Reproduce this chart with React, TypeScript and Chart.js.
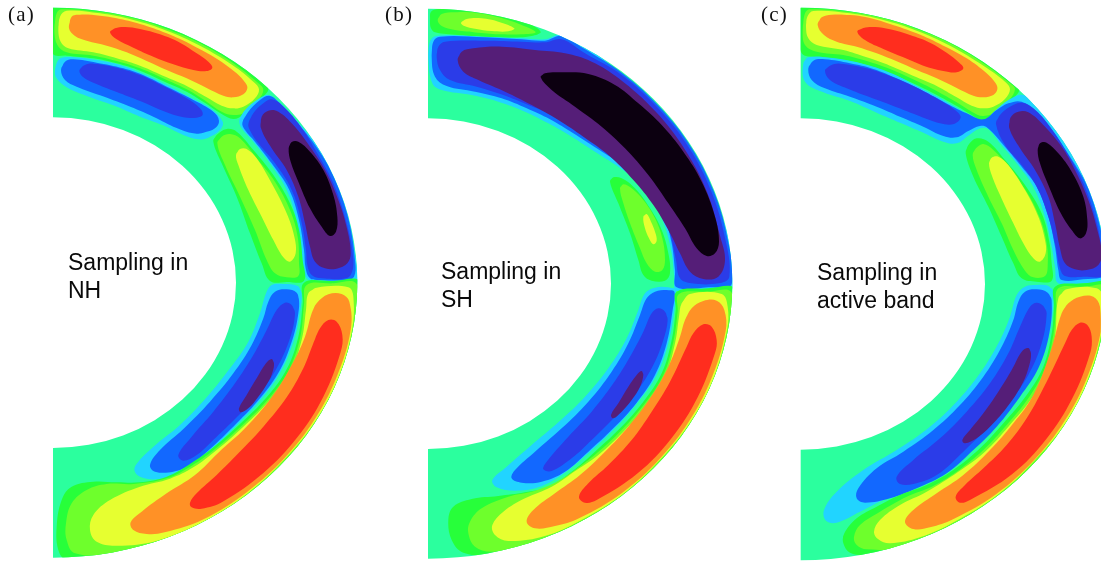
import React, { useEffect, useRef } from "react";
import { Chart, registerables } from "chart.js";

Chart.register(...registerables);

type Contour = [string, number[]];

const PALETTE: Record<string, string> = {
  base: "#2bff9e",
  lime: "#27ff3a",
  green: "#6eff2c",
  yellow: "#e6ff30",
  orange: "#ff9126",
  red: "#ff2d1e",
  cyan: "#21d4ff",
  sky: "#1268ff",
  blue: "#2b3ce8",
  purple: "#551e78",
  black: "#0c0010",
};

// Lower half outlines are read with their own zero at row 840.
const low = (v: number[]) => v.map((n, i) => (i % 2 ? n + 840 : n));

const panelA: Contour[] = [
  ["lime", [140, 90, 159, 15, 300, 25, 400, 45, 500, 75, 600, 118, 700, 176, 790, 250, 805, 268, 790, 290, 760, 322, 730, 345, 700, 357, 665, 342, 620, 312, 560, 275, 500, 248, 420, 212, 350, 190, 280, 175, 200, 167, 159, 162]],
  ["green", [163, 90, 170, 40, 185, 28, 300, 36, 400, 55, 500, 87, 600, 130, 700, 190, 775, 250, 790, 270, 775, 300, 740, 335, 700, 345, 665, 335, 620, 305, 560, 268, 500, 240, 420, 205, 350, 183, 280, 167, 200, 157, 172, 135]],
  ["yellow", [175, 90, 180, 50, 200, 32, 300, 40, 400, 60, 500, 92, 600, 137, 700, 197, 760, 245, 777, 268, 765, 295, 730, 320, 700, 325, 665, 317, 620, 292, 560, 258, 500, 232, 420, 197, 350, 175, 280, 157, 205, 145, 182, 125]],
  ["orange", [207, 85, 215, 50, 240, 44, 300, 47, 350, 55, 420, 72, 500, 100, 580, 137, 650, 176, 710, 220, 737, 250, 742, 265, 730, 283, 700, 292, 670, 287, 620, 264, 560, 235, 500, 210, 440, 183, 380, 157, 320, 137, 260, 122, 225, 108]],
  ["red", [330, 97, 345, 85, 375, 81, 420, 87, 480, 103, 540, 128, 590, 160, 625, 185, 637, 203, 620, 213, 580, 210, 520, 193, 460, 170, 400, 143, 350, 118]],
  ["cyan", [165, 210, 175, 180, 200, 171, 290, 180, 360, 195, 430, 222, 500, 255, 570, 292, 630, 325, 668, 365, 660, 390, 625, 413, 595, 418, 550, 405, 490, 376, 420, 350, 340, 316, 260, 288, 200, 262, 170, 235]],
  ["sky", [183, 210, 195, 185, 220, 178, 290, 188, 370, 205, 440, 230, 510, 265, 580, 300, 640, 335, 657, 362, 645, 385, 610, 398, 580, 400, 530, 384, 460, 350, 380, 316, 300, 286, 230, 260, 195, 240]],
  ["blue", [238, 212, 250, 197, 280, 191, 350, 203, 420, 225, 490, 258, 560, 295, 600, 325, 608, 345, 590, 353, 550, 352, 490, 333, 420, 303, 350, 276, 280, 248, 250, 232]],
  ["cyan", [718, 360, 735, 330, 775, 297, 805, 285, 830, 300, 880, 350, 950, 435, 1000, 525, 1045, 650, 1072, 800, 1080, 840, 1040, 846, 960, 846, 925, 840, 910, 810, 905, 750, 890, 660, 860, 570, 810, 490, 760, 425, 725, 385]],
  ["sky", [727, 368, 745, 335, 780, 300, 808, 287, 835, 305, 885, 360, 952, 445, 1003, 535, 1046, 660, 1066, 790, 1062, 830, 1040, 840, 960, 840, 930, 835, 917, 805, 912, 750, 897, 660, 868, 570, 815, 490, 765, 425, 735, 390]],
  ["blue", [745, 372, 760, 340, 790, 310, 815, 298, 845, 315, 895, 370, 955, 465, 1000, 550, 1040, 670, 1060, 780, 1052, 825, 1030, 836, 965, 835, 935, 825, 922, 795, 918, 750, 903, 660, 875, 570, 825, 490, 775, 430, 752, 395]],
  ["purple", [783, 385, 785, 350, 805, 332, 835, 335, 880, 375, 930, 440, 975, 510, 1015, 600, 1042, 690, 1052, 760, 1042, 790, 1010, 806, 975, 805, 945, 785, 930, 740, 915, 670, 895, 590, 860, 510, 815, 445]],
  ["black", [866, 445, 875, 426, 895, 425, 930, 455, 970, 510, 1000, 585, 1012, 650, 1008, 695, 990, 708, 965, 680, 930, 625, 895, 545, 872, 485]],
  ["lime", [640, 425, 650, 405, 680, 387, 710, 395, 760, 450, 820, 525, 870, 610, 897, 690, 908, 780, 912, 842, 860, 846, 810, 843, 785, 790, 750, 700, 710, 590, 665, 490]],
  ["green", [652, 430, 665, 410, 690, 402, 720, 415, 770, 475, 825, 545, 870, 630, 893, 710, 897, 790, 895, 828, 860, 832, 825, 820, 800, 780, 765, 690, 720, 590, 675, 495]],
  ["yellow", [708, 465, 720, 447, 740, 447, 770, 475, 815, 550, 860, 640, 883, 710, 887, 760, 870, 785, 850, 772, 820, 720, 785, 650, 745, 570, 715, 495]],
  ["cyan", low([905, 40, 893, 18, 850, 12, 815, 15, 798, 40, 780, 100, 745, 185, 690, 265, 620, 352, 540, 435, 470, 492, 415, 545, 403, 570, 420, 590, 470, 598, 530, 582, 590, 548, 650, 495, 720, 425, 790, 350, 845, 270, 885, 170, 900, 95])],
  ["sky", low([897, 60, 890, 38, 860, 28, 825, 35, 805, 65, 790, 115, 755, 195, 700, 280, 630, 365, 550, 447, 480, 510, 450, 555, 465, 575, 520, 575, 575, 552, 640, 498, 710, 430, 780, 355, 840, 270, 880, 170, 895, 100])],
  ["blue", low([885, 100, 875, 75, 855, 68, 830, 90, 800, 150, 760, 225, 705, 310, 640, 395, 575, 470, 535, 525, 550, 542, 590, 525, 650, 470, 705, 417, 775, 345, 830, 265, 870, 175])],
  ["purple", low([822, 250, 815, 237, 798, 250, 770, 295, 740, 345, 717, 385, 722, 397, 745, 385, 775, 350, 805, 305, 818, 275])],
  ["lime", low([912, 8, 1000, 3, 1080, 3, 1085, 100, 1065, 260, 1000, 440, 900, 570, 800, 660, 650, 760, 500, 815, 350, 840, 200, 840, 175, 810, 170, 740, 185, 660, 215, 620, 280, 605, 350, 607, 420, 607, 500, 590, 570, 552, 640, 502, 720, 432, 800, 352, 860, 268, 895, 170, 908, 70])],
  ["green", low([920, 15, 1000, 10, 1068, 10, 1073, 100, 1055, 260, 995, 430, 895, 565, 795, 655, 645, 752, 495, 805, 350, 825, 225, 820, 200, 780, 198, 730, 215, 670, 260, 630, 320, 612, 400, 612, 500, 595, 575, 557, 645, 507, 725, 437, 805, 357, 865, 273, 900, 175, 912, 75])],
  ["yellow", low([925, 40, 950, 23, 1045, 22, 1060, 50, 1056, 150, 1016, 290, 948, 420, 857, 534, 745, 638, 615, 722, 471, 782, 350, 797, 290, 785, 270, 750, 280, 705, 330, 660, 420, 620, 510, 596, 580, 562, 650, 510, 730, 440, 810, 360, 870, 278, 905, 180, 918, 90])],
  ["orange", low([935, 100, 950, 70, 985, 43, 1025, 42, 1048, 65, 1052, 150, 1011, 288, 944, 418, 853, 535, 742, 635, 612, 717, 494, 757, 440, 762, 400, 750, 392, 727, 425, 695, 500, 640, 585, 585, 655, 518, 735, 445, 815, 352, 878, 250, 915, 170])],
  ["red", low([938, 195, 960, 145, 985, 120, 1010, 125, 1027, 165, 1022, 216, 970, 350, 892, 472, 790, 579, 668, 665, 605, 686, 575, 682, 570, 668, 590, 640, 650, 585, 715, 520, 790, 440, 860, 352, 910, 265])],
];

const panelB: Contour[] = [
  ["lime", [165, 62, 168, 35, 190, 27, 300, 25, 380, 40, 450, 65, 497, 95, 470, 108, 400, 113, 330, 112, 250, 105, 180, 97, 168, 85]],
  ["green", [188, 60, 200, 42, 240, 37, 300, 38, 370, 52, 440, 75, 482, 97, 440, 103, 380, 103, 310, 98, 240, 90, 200, 78]],
  ["yellow", [258, 68, 275, 57, 320, 55, 370, 65, 418, 85, 400, 94, 350, 93, 300, 86, 268, 78]],
  ["cyan", [160, 170, 165, 125, 185, 108, 330, 110, 440, 115, 510, 118, 560, 103, 620, 125, 700, 190, 800, 280, 880, 365, 950, 460, 1010, 580, 1060, 710, 1080, 860, 905, 872, 898, 830, 890, 760, 870, 680, 835, 600, 790, 545, 730, 500, 660, 455, 590, 410, 520, 370, 450, 335, 370, 305, 290, 285, 200, 270, 172, 250]],
  ["sky", [170, 170, 175, 125, 195, 110, 330, 112, 440, 118, 510, 122, 560, 108, 625, 145, 745, 222, 857, 324, 948, 441, 1015, 571, 1056, 709, 1070, 852, 1000, 862, 905, 862, 900, 810, 890, 730, 870, 660, 838, 590, 795, 535, 735, 490, 665, 445, 595, 400, 525, 358, 455, 325, 380, 295, 300, 275, 215, 258, 180, 230]],
  ["blue", [185, 170, 190, 140, 210, 125, 330, 122, 440, 125, 510, 127, 560, 118, 630, 160, 740, 225, 851, 326, 942, 443, 1008, 572, 1049, 709, 1063, 830, 1030, 850, 950, 850, 915, 835, 903, 780, 885, 700, 855, 620, 810, 550, 745, 490, 670, 435, 600, 390, 530, 345, 460, 315, 385, 285, 305, 260, 225, 240, 195, 210]],
  ["purple", [248, 180, 260, 155, 295, 145, 380, 140, 480, 150, 570, 160, 650, 185, 731, 235, 841, 334, 930, 449, 996, 576, 1036, 711, 1050, 781, 1030, 830, 985, 837, 945, 815, 915, 760, 880, 690, 835, 615, 775, 540, 700, 465, 625, 410, 550, 360, 470, 315, 390, 275, 310, 240, 265, 215]],
  ["black", [497, 232, 510, 220, 560, 217, 640, 222, 720, 255, 790, 310, 860, 375, 925, 455, 980, 545, 1020, 650, 1032, 725, 1020, 760, 995, 768, 965, 745, 930, 685, 880, 610, 820, 525, 750, 445, 680, 380, 600, 320, 530, 270]],
  ["lime", [705, 545, 715, 532, 740, 535, 780, 565, 825, 625, 860, 690, 880, 760, 885, 820, 870, 842, 830, 842, 805, 825, 790, 780, 765, 700, 730, 610]],
  ["green", [735, 565, 745, 553, 770, 565, 805, 600, 840, 655, 862, 715, 870, 780, 862, 810, 840, 815, 815, 790, 795, 745, 765, 670, 745, 610]],
  ["yellow", [805, 650, 815, 642, 828, 665, 840, 695, 845, 722, 835, 733, 822, 715, 810, 685]],
  ["cyan", low([902, 30, 880, 22, 840, 23, 810, 40, 790, 90, 755, 175, 700, 265, 630, 350, 550, 427, 470, 495, 395, 560, 352, 600, 365, 622, 420, 632, 490, 622, 560, 585, 640, 520, 720, 445, 790, 365, 845, 285, 880, 190, 898, 90])],
  ["sky", low([898, 35, 875, 30, 840, 35, 815, 55, 795, 105, 760, 190, 710, 275, 640, 365, 560, 445, 480, 515, 420, 570, 410, 595, 440, 608, 500, 605, 570, 575, 640, 515, 715, 445, 785, 368, 840, 285, 875, 190, 893, 90])],
  ["blue", low([878, 120, 870, 95, 850, 85, 830, 100, 805, 155, 765, 230, 715, 310, 650, 395, 580, 470, 515, 545, 505, 568, 530, 573, 590, 535, 650, 480, 720, 410, 785, 335, 835, 255, 865, 180])],
  ["purple", low([805, 285, 800, 273, 785, 285, 760, 320, 730, 370, 708, 405, 715, 415, 740, 395, 770, 360, 795, 320])],
  ["lime", low([905, 35, 1000, 25, 1080, 25, 1085, 120, 1065, 260, 1000, 440, 900, 570, 800, 660, 650, 750, 500, 805, 350, 825, 265, 818, 230, 780, 220, 720, 235, 680, 290, 657, 370, 648, 450, 637, 520, 620, 590, 575, 660, 515, 735, 445, 805, 365, 860, 280, 890, 180, 902, 90])],
  ["green", low([912, 42, 1000, 35, 1068, 35, 1073, 120, 1055, 260, 995, 430, 895, 565, 795, 655, 645, 745, 495, 795, 350, 815, 300, 800, 280, 760, 285, 725, 320, 685, 400, 650, 480, 632, 545, 605, 600, 570, 665, 520, 740, 450, 810, 370, 865, 285, 895, 185, 908, 95])],
  ["yellow", low([920, 70, 945, 42, 1040, 42, 1058, 80, 1056, 150, 1016, 293, 948, 423, 857, 537, 745, 641, 615, 722, 510, 768, 400, 783, 360, 765, 352, 735, 385, 695, 450, 655, 530, 620, 605, 570, 670, 525, 745, 455, 815, 375, 870, 290, 900, 190, 912, 110])],
  ["orange", low([930, 120, 950, 85, 985, 63, 1025, 62, 1048, 90, 1052, 153, 1011, 291, 944, 421, 853, 538, 742, 638, 612, 715, 540, 738, 480, 745, 455, 725, 475, 690, 540, 640, 615, 585, 690, 515, 760, 440, 825, 355, 880, 260, 915, 170])],
  ["red", low([935, 200, 955, 160, 985, 133, 1010, 140, 1025, 180, 1020, 219, 968, 352, 890, 474, 788, 580, 665, 660, 630, 668, 612, 650, 640, 610, 700, 555, 770, 480, 830, 395, 885, 305])],
];

const panelC: Contour[] = [
  ["lime", [150, 90, 155, 20, 300, 25, 400, 45, 500, 75, 600, 118, 700, 176, 795, 250, 808, 270, 790, 295, 760, 322, 730, 345, 700, 362, 665, 345, 620, 318, 560, 285, 500, 255, 420, 220, 350, 195, 280, 180, 200, 172, 155, 160]],
  ["green", [158, 90, 165, 40, 180, 28, 300, 36, 400, 55, 500, 87, 600, 130, 700, 190, 780, 250, 795, 268, 778, 300, 745, 332, 700, 348, 665, 335, 620, 307, 560, 273, 500, 243, 420, 207, 350, 183, 280, 165, 200, 155, 165, 135]],
  ["yellow", [168, 80, 172, 50, 190, 33, 300, 40, 400, 60, 500, 92, 600, 137, 700, 197, 765, 245, 780, 268, 765, 297, 730, 320, 700, 325, 665, 317, 620, 292, 560, 258, 500, 232, 420, 197, 350, 172, 280, 150, 200, 135, 175, 115]],
  ["orange", [203, 75, 215, 52, 245, 44, 300, 45, 350, 52, 420, 72, 500, 100, 580, 137, 650, 175, 710, 220, 737, 250, 742, 268, 730, 285, 700, 292, 670, 287, 620, 264, 560, 235, 500, 210, 440, 184, 380, 160, 320, 140, 260, 125, 222, 105]],
  ["red", [322, 95, 340, 84, 375, 81, 420, 88, 480, 105, 540, 128, 590, 158, 628, 188, 640, 205, 620, 217, 580, 213, 520, 197, 460, 172, 400, 147, 345, 120]],
  ["cyan", [160, 190, 175, 172, 240, 173, 300, 182, 370, 200, 430, 222, 500, 258, 570, 295, 640, 335, 700, 362, 735, 332, 775, 300, 820, 285, 860, 320, 910, 380, 960, 450, 1010, 530, 1060, 640, 1090, 760, 1100, 835, 1000, 850, 925, 850, 915, 800, 905, 740, 885, 650, 850, 560, 800, 490, 750, 430, 715, 388, 690, 385, 655, 407, 620, 430, 580, 425, 520, 398, 450, 368, 380, 338, 300, 303, 220, 277, 165, 245]],
  ["sky", [175, 205, 190, 182, 225, 178, 300, 190, 370, 207, 440, 235, 510, 268, 580, 305, 650, 340, 700, 358, 740, 330, 775, 310, 815, 305, 860, 335, 910, 395, 960, 470, 1010, 555, 1045, 660, 1066, 770, 1068, 825, 1000, 838, 935, 840, 925, 810, 915, 740, 895, 650, 860, 560, 815, 500, 765, 440, 712, 383, 690, 378, 655, 393, 620, 412, 580, 408, 520, 380, 450, 350, 380, 320, 300, 290, 225, 265, 185, 240]],
  ["blue", [225, 212, 240, 197, 270, 191, 350, 205, 420, 228, 490, 258, 560, 295, 615, 330, 632, 352, 612, 372, 570, 370, 500, 345, 430, 318, 360, 292, 290, 265, 240, 240]],
  ["blue", [738, 372, 750, 345, 780, 320, 815, 308, 850, 325, 900, 380, 955, 465, 1000, 550, 1038, 660, 1057, 760, 1060, 825, 1000, 830, 945, 828, 930, 805, 915, 730, 895, 650, 860, 560, 815, 495, 765, 435]],
  ["purple", [778, 385, 782, 352, 805, 335, 835, 337, 880, 375, 935, 440, 975, 510, 1015, 600, 1042, 690, 1055, 760, 1045, 795, 1010, 810, 975, 808, 945, 790, 930, 745, 915, 670, 895, 590, 855, 510, 810, 445]],
  ["black", [863, 450, 870, 430, 890, 428, 925, 460, 965, 515, 1000, 590, 1012, 660, 1008, 700, 990, 715, 965, 690, 930, 635, 895, 555, 870, 490]],
  ["lime", [647, 460, 655, 435, 680, 415, 715, 425, 765, 480, 825, 555, 875, 640, 897, 720, 905, 790, 905, 842, 860, 845, 815, 835, 790, 790, 755, 710, 715, 620, 670, 530]],
  ["green", [668, 465, 678, 445, 700, 432, 730, 450, 775, 500, 830, 575, 870, 655, 890, 730, 893, 800, 885, 828, 850, 832, 825, 812, 790, 750, 755, 670, 715, 590, 680, 510]],
  ["yellow", [717, 490, 725, 473, 745, 470, 775, 495, 825, 570, 865, 650, 885, 720, 887, 760, 870, 785, 850, 775, 820, 730, 790, 670, 750, 585, 725, 525]],
  ["cyan", low([910, 35, 895, 18, 860, 15, 825, 20, 800, 45, 780, 110, 745, 190, 690, 280, 620, 365, 540, 440, 440, 510, 340, 570, 260, 635, 222, 690, 228, 722, 260, 728, 330, 695, 420, 650, 500, 620, 590, 565, 670, 505, 740, 430, 810, 345, 865, 260, 900, 150])],
  ["sky", low([905, 60, 893, 38, 860, 28, 825, 35, 805, 65, 790, 120, 755, 200, 700, 290, 630, 375, 550, 450, 460, 515, 380, 565, 325, 625, 320, 655, 345, 668, 420, 655, 500, 625, 590, 580, 670, 510, 740, 440, 810, 350, 865, 265, 898, 160])],
  ["blue", low([890, 100, 880, 78, 860, 68, 840, 80, 810, 140, 775, 220, 720, 310, 650, 395, 570, 475, 490, 540, 440, 590, 450, 612, 490, 612, 560, 585, 640, 515, 710, 445, 780, 365, 835, 285, 875, 190])],
  ["purple", low([843, 220, 835, 204, 815, 215, 785, 270, 745, 335, 700, 400, 660, 450, 637, 480, 645, 490, 680, 475, 730, 430, 780, 370, 820, 305, 838, 255])],
  ["lime", low([915, 20, 1000, 10, 1090, 10, 1095, 120, 1075, 260, 1010, 450, 910, 580, 800, 680, 650, 770, 500, 815, 350, 825, 300, 818, 280, 790, 283, 760, 320, 715, 380, 680, 450, 645, 530, 615, 610, 570, 690, 505, 760, 430, 830, 345, 880, 260, 905, 160, 912, 80])],
  ["green", low([925, 25, 1000, 20, 1085, 20, 1085, 120, 1065, 260, 1000, 445, 905, 575, 795, 672, 645, 760, 495, 805, 350, 808, 320, 795, 312, 770, 330, 735, 390, 695, 470, 650, 545, 620, 620, 575, 700, 510, 770, 435, 838, 350, 885, 265, 910, 165, 918, 90])],
  ["yellow", low([925, 55, 950, 28, 1040, 25, 1062, 60, 1056, 150, 1015, 295, 948, 426, 855, 540, 742, 645, 612, 726, 510, 772, 420, 790, 385, 778, 372, 755, 390, 720, 450, 675, 530, 635, 625, 575, 705, 515, 775, 440, 845, 355, 890, 270, 915, 170])],
  ["orange", low([935, 100, 955, 70, 990, 50, 1030, 50, 1050, 80, 1052, 155, 1011, 293, 943, 424, 852, 541, 739, 642, 609, 718, 540, 742, 490, 747, 465, 725, 490, 690, 560, 640, 640, 585, 720, 510, 790, 430, 850, 345, 900, 220])],
  ["red", low([945, 190, 965, 150, 990, 128, 1012, 135, 1025, 170, 1020, 221, 967, 355, 889, 477, 786, 583, 660, 660, 630, 668, 617, 650, 645, 615, 700, 565, 770, 495, 830, 415, 890, 305])],
];

const baseRect = [100, 0, 1110, 0, 1110, 1686, 100, 1686];

const panels = [
  { id: "a", contours: panelA, left: 0, width: 370, shell: { cx: 159, cy: 848, rx: 913, ry: 825, irx: 549, iry: 496 } },
  { id: "b", contours: panelB, left: 375, width: 370, shell: { cx: 159, cy: 851, rx: 913, ry: 825, irx: 549, iry: 496 } },
  { id: "c", contours: panelC, left: 750, width: 351, shell: { cx: 152, cy: 852, rx: 920, ry: 829, irx: 553, iry: 497 } },
];

const captions = [
  { text: "(a)", left: 8, top: 2 },
  { text: "(b)", left: 385, top: 2 },
  { text: "(c)", left: 761, top: 2 },
];
const notes = [
  { lines: ["Sampling in", "NH"], left: 68, top: 248 },
  { lines: ["Sampling in", "SH"], left: 441, top: 257 },
  { lines: ["Sampling in", "active band"], left: 817, top: 258 },
];

const toPoints = (flat: number[], wrap: boolean) => {
  const pts: { x: number; y: number }[] = [];
  for (let i = 0; i < flat.length; i += 2) pts.push({ x: flat[i], y: flat[i + 1] });
  if (wrap) pts.push(pts[0], pts[1]);
  return pts;
};

function Panel({ p }: { p: (typeof panels)[number] }) {
  const ref = useRef<HTMLCanvasElement | null>(null);
  useEffect(() => {
    const { cx, cy, rx, ry, irx, iry } = p.shell;
    const clipPlugin = {
      id: "shellClip",
      beforeDatasetsDraw(chart: any) {
        const { ctx, scales } = chart;
        const k = scales.x.width / (scales.x.max - scales.x.min);
        ctx.save();
        ctx.beginPath();
        const px = scales.x.getPixelForValue(cx);
        const py = scales.y.getPixelForValue(cy);
        ctx.ellipse(px, py, rx * k, ry * k, 0, -Math.PI / 2, Math.PI / 2);
        ctx.ellipse(px, py, irx * k, iry * k, 0, Math.PI / 2, -Math.PI / 2, true);
        ctx.closePath();
        ctx.clip();
      },
      afterDatasetsDraw(chart: any) {
        chart.ctx.restore();
      },
    };
    const all: Contour[] = [["base", baseRect], ...p.contours];
    const chart = new Chart(ref.current as HTMLCanvasElement, {
      type: "scatter",
      data: {
        datasets: all.map(([level, flat], i) => ({
          label: level,
          data: toPoints(flat, i > 0),
          showLine: true,
          fill: "shape",
          tension: i > 0 ? 0.38 : 0,
          borderWidth: 0,
          pointRadius: 0,
          backgroundColor: PALETTE[level],
          borderColor: PALETTE[level],
          order: all.length - i,
        })),
      },
      options: {
        animation: false,
        responsive: false,
        layout: { padding: 0 },
        plugins: { legend: { display: false }, tooltip: { enabled: false } },
        scales: {
          x: { type: "linear", display: false, min: 0, max: p.width * 3 },
          y: { type: "linear", display: false, reverse: true, min: 0, max: 1686 },
        },
      },
      plugins: [clipPlugin],
    } as any);
    return () => chart.destroy();
  }, [p]);
  return (
    <canvas
      ref={ref}
      width={p.width}
      height={562}
      style={{ position: "absolute", left: p.left, top: 0, width: p.width, height: 562, filter: "blur(0.4px)" }}
    />
  );
}

export default function App() {
  return (
    <div style={{ position: "absolute", left: 0, top: 0, width: 1101, height: 562, overflow: "hidden", background: "#fff" }}>
      {panels.map((p) => (
        <Panel key={p.id} p={p} />
      ))}
      {captions.map((c) => (
        <div
          key={c.text}
          style={{ position: "absolute", left: c.left, top: c.top, font: "21px 'Liberation Serif', serif", letterSpacing: 1.2, color: "#111", lineHeight: "24px" }}
        >
          {c.text}
        </div>
      ))}
      {notes.map((n) => (
        <div
          key={n.lines.join()}
          style={{ position: "absolute", left: n.left, top: n.top, font: "23px 'Liberation Sans', Arial, sans-serif", color: "#0a0a0a", lineHeight: "28px", whiteSpace: "nowrap" }}
        >
          {n.lines.map((l) => (
            <div key={l}>{l}</div>
          ))}
        </div>
      ))}
    </div>
  );
}
